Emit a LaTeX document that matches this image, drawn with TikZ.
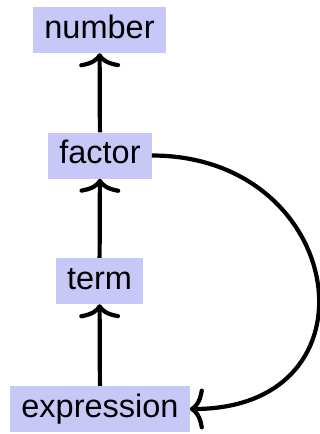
\documentclass[tikz,border=0pt]{standalone}
\usepackage{fontspec}
\setmainfont{Liberation Sans}
\usetikzlibrary{arrows.meta}
\begin{document}
\begin{tikzpicture}[x=1pt,y=-1pt,
  box/.style={fill={rgb,255:red,200;green,200;blue,248}, inner xsep=11pt, inner ysep=0pt,
    minimum height=46pt, text height=23pt, text depth=7pt, font=\fontsize{32.5}{38}\selectfont},
  conn/.style={line width=4.2pt, -{To[scale length=1.3,scale width=1.8]}}]
\useasboundingbox (0,0) rectangle (320,434);
\node[box] (number) at (99.5,30) {number};
\node[box] (factor) at (100,155.5) {factor};
\node[box] (term) at (99.5,281) {term};
\node[box] (expression) at (100,409) {expression};
\draw[conn] (factor) -- (number);
\draw[conn] (term) -- (factor);
\draw[conn] (expression) -- (term);
\draw[conn] (factor.east) to[out=0,in=0,looseness=1.95] (expression.east);
\end{tikzpicture}
\end{document}
